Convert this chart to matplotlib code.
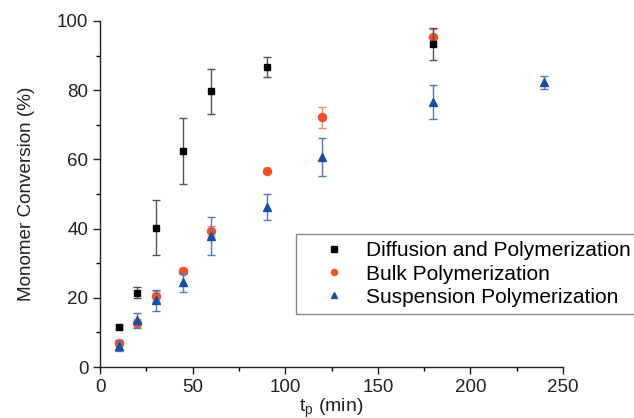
import matplotlib
matplotlib.use("Agg")
import matplotlib.pyplot as plt
from matplotlib.ticker import MultipleLocator

plt.rcParams["font.family"] = ["Liberation Sans", "DejaVu Sans"]
plt.rcParams["mathtext.fontset"] = "custom"
plt.rcParams["mathtext.rm"] = "Liberation Sans"
plt.rcParams["mathtext.it"] = "Liberation Sans"

# Diffusion and Polymerization
t_diff = [10, 20, 30, 45, 60, 90, 180]
y_diff = [11.5, 21.5, 40.3, 62.5, 79.7, 86.7, 93.3]
e_diff = [0.6, 1.5, 8.0, 9.5, 6.5, 3.0, 4.6]

# Bulk Polymerization
t_bulk = [10, 20, 30, 45, 60, 90, 120, 180]
y_bulk = [7.0, 12.8, 20.5, 27.7, 39.3, 56.7, 72.2, 95.3]
e_bulk = [0.8, 1.2, 1.5, 0.8, 1.5, 0.3, 3.0, 2.5]

# Suspension Polymerization
t_susp = [10, 20, 30, 45, 60, 90, 120, 180, 240]
y_susp = [6.0, 13.5, 19.3, 24.5, 37.8, 46.3, 60.6, 76.6, 82.3]
e_susp = [1.5, 2.2, 3.0, 2.7, 5.5, 3.8, 5.5, 4.8, 1.9]

C_BLACK = "#000000"
C_ORANGE = "#f0502a"
C_BLUE = "#1a4ea0"

fig = plt.figure(figsize=(6.34, 4.18), dpi=100)
ax = fig.add_axes([0.158, 0.122, 0.730, 0.828])

ax.errorbar(t_diff, y_diff, yerr=e_diff, fmt="s", color=C_BLACK, ms=5,
            ecolor="#555555", elinewidth=1.0, capsize=2.7, capthick=1.0,
            label="Diffusion and Polymerization", zorder=3)
ax.errorbar(t_bulk, y_bulk, yerr=e_bulk, fmt="o", color=C_ORANGE, ms=5.8,
            ecolor="#f08a6a", elinewidth=1.0, capsize=2.7, capthick=1.0,
            label="Bulk Polymerization", zorder=2)
ax.errorbar(t_susp, y_susp, yerr=e_susp, fmt="^", color=C_BLUE, ms=6,
            ecolor="#5577bb", elinewidth=1.0, capsize=2.7, capthick=1.0,
            label="Suspension Polymerization", zorder=4)

ax.set_xlim(0, 250)
ax.set_ylim(0, 100)
ax.xaxis.set_major_locator(MultipleLocator(50))
ax.xaxis.set_minor_locator(MultipleLocator(25))
ax.yaxis.set_major_locator(MultipleLocator(20))
ax.yaxis.set_minor_locator(MultipleLocator(10))
ax.tick_params(which="major", direction="out", length=5, width=1.0,
               labelsize=13.5, colors="#222222")
ax.tick_params(which="minor", direction="out", length=3, width=1.0)
ax.spines["top"].set_visible(False)
ax.spines["right"].set_visible(False)
for s in ("left", "bottom"):
    ax.spines[s].set_linewidth(1.0)
    ax.spines[s].set_color("#222222")

ax.set_ylabel("Monomer Conversion (%)", fontsize=13.6, color="#222222",
              labelpad=16)
ax.set_xlabel(r"t$_\mathregular{p}$ (min)", fontsize=14, color="#222222",
              labelpad=1)

handles, labels = ax.get_legend_handles_labels()
handles = [h[0] for h in handles]
leg = ax.legend(handles, labels, loc="upper left",
                bbox_to_anchor=(0.467, 0.44), bbox_transform=fig.transFigure,
                fontsize=15, frameon=True, fancybox=False, framealpha=1,
                handlelength=2.9, handletextpad=0.1, borderpad=0.35,
                labelspacing=0.2, markerscale=0.75, borderaxespad=0)
leg.get_frame().set_edgecolor("#888888")
leg.get_frame().set_linewidth(1.0)

fig.savefig("out.png", dpi=100)
